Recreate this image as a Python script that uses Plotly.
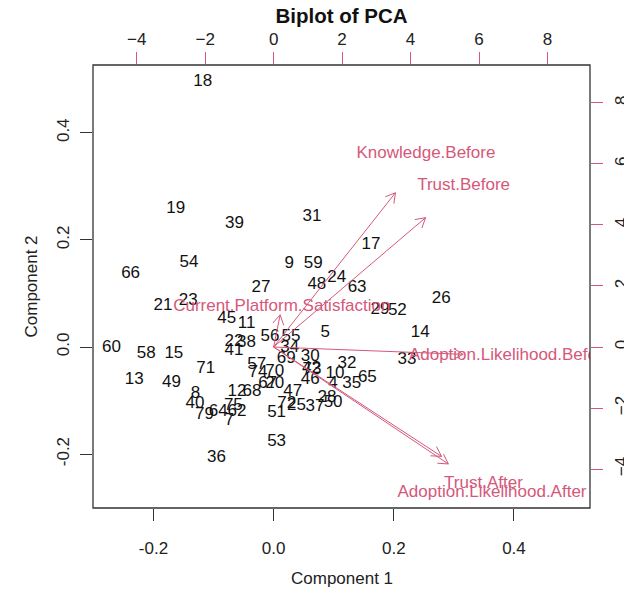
import math
import plotly.graph_objects as go

# Scores on the first two principal components, one label per respondent
obs_ids = ["18", "19", "39", "31", "17", "54", "66", "9", "59", "27",
           "48", "24", "63", "26", "21", "23", "29", "52", "45", "11",
           "56", "55", "5", "14", "22", "38", "41", "34", "69", "30",
           "60", "58", "15", "33", "71", "57", "74", "70", "42", "73",
           "32", "13", "49", "46", "10", "65", "4", "35", "8", "12",
           "68", "67", "20", "47", "28", "50", "40", "79", "64", "75",
           "62", "7", "72", "25", "37", "51", "53", "36"]
pc1 = [-0.118, -0.163, -0.065, 0.064, 0.162, -0.141, -0.238, 0.026, 0.066, -0.021,
       0.072, 0.105, 0.139, 0.279, -0.184, -0.142, 0.177, 0.206, -0.078, -0.045,
       -0.006, 0.029, 0.086, 0.244, -0.066, -0.045, -0.066, 0.027, 0.021, 0.061,
       -0.270, -0.212, -0.166, 0.222, -0.113, -0.028, -0.026, 0.002, 0.063, 0.064,
       0.122, -0.232, -0.170, 0.061, 0.102, 0.156, 0.099, 0.130, -0.130, -0.061,
       -0.036, -0.010, 0.002, 0.032, 0.089, 0.099, -0.131, -0.115, -0.092, -0.067,
       -0.061, -0.074, 0.022, 0.038, 0.069, 0.005, 0.005, -0.095]
pc2 = [0.496, 0.259, 0.231, 0.244, 0.191, 0.158, 0.136, 0.155, 0.155, 0.110,
       0.116, 0.129, 0.110, 0.091, 0.077, 0.087, 0.069, 0.068, 0.052, 0.044,
       0.019, 0.020, 0.026, 0.026, 0.010, 0.008, -0.007, -0.002, -0.021, -0.019,
       -0.001, -0.012, -0.013, -0.024, -0.040, -0.033, -0.048, -0.047, -0.040, -0.042,
       -0.031, -0.062, -0.067, -0.062, -0.049, -0.057, -0.069, -0.069, -0.087, -0.083,
       -0.083, -0.069, -0.069, -0.084, -0.094, -0.104, -0.105, -0.126, -0.120, -0.109,
       -0.121, -0.137, -0.106, -0.109, -0.111, -0.123, -0.176, -0.206]

# Variable loadings (positions of the variable names)
var_names = ["Knowledge.Before", "Trust.Before", "Current.Platform.Satisfaction",
             "Adoption.Likelihood.Before", "Trust.After", "Adoption.Likelihood.After"]
load1 = [4.45, 5.55, 0.24, 6.92, 6.13, 6.38]
load2 = [6.32, 5.30, 1.32, -0.30, -4.48, -4.79]

score_ticks = [-0.2, 0.0, 0.2, 0.4]
score_ticktext = ["-0.2", "0.0", "0.2", "0.4"]
load_ticks = [-4, -2, 0, 2, 4, 6, 8]

# Axis limits shared by both components; loading axes are scaled copies
lim = [-0.3006, 0.5266]
ratio = 17.55
vlim = [lim[0] * ratio, lim[1] * ratio]

W, H = 624, 590
ML, MR, MT, MB = 93, 34, 65, 82
plot_w = W - ML - MR
plot_h = H - MT - MB

FONT = "Arial, 'Liberation Sans', Helvetica, sans-serif"
VAR_COL = "#D5587A"
TXT = 17

fig = go.Figure()

# Observation labels
fig.add_trace(go.Scatter(
    x=pc1, y=pc2, text=obs_ids, mode="text",
    textfont=dict(family=FONT, size=TXT, color="#111111"),
    textposition="middle center", hoverinfo="skip", showlegend=False,
    xaxis="x", yaxis="y",
))

# Arrows drawn to 80% of each loading, with open V heads
sx = plot_w / (vlim[1] - vlim[0])
sy = plot_h / (vlim[1] - vlim[0])
head_len = 11.0
head_ang = math.radians(30)
ax_x, ax_y = [], []
for lx, ly in zip(load1, load2):
    tx, ty = 0.8 * lx, 0.8 * ly
    ax_x += [0, tx, None]
    ax_y += [0, ty, None]
    theta = math.atan2(ty * sy, tx * sx)
    for s in (1, -1):
        a = theta + s * head_ang
        bx = tx - head_len * math.cos(a) / sx
        by = ty - head_len * math.sin(a) / sy
        ax_x += [tx, bx, None]
        ax_y += [ty, by, None]

fig.add_trace(go.Scatter(
    x=ax_x, y=ax_y, mode="lines",
    line=dict(color=VAR_COL, width=1.0),
    hoverinfo="skip", showlegend=False, xaxis="x2", yaxis="y2",
))
fig.add_trace(go.Scatter(
    x=load1, y=load2, text=var_names, mode="text",
    textfont=dict(family=FONT, size=TXT, color=VAR_COL),
    textposition="middle center", hoverinfo="skip", showlegend=False,
    xaxis="x2", yaxis="y2",
))

axis_common = dict(
    showgrid=False, zeroline=False, showline=False, ticks="outside",
    ticklen=12, tickwidth=1.1, tickfont=dict(family=FONT, size=TXT, color="#222222"),
)

fig.update_layout(
    width=W, height=H,
    margin=dict(l=ML, r=MR, t=MT, b=MB, autoexpand=False),
    paper_bgcolor="white", plot_bgcolor="white",
    font=dict(family=FONT, color="#222222"),
    title=dict(text="<b>Biplot of PCA</b>", x=(ML + plot_w / 2) / W, xanchor="center",
               y=1 - 16 / H, yanchor="middle", yref="container",
               font=dict(family=FONT, size=20.5, color="#111111")),
    xaxis=dict(range=lim, tickvals=score_ticks, ticktext=score_ticktext,
               tickcolor="#333333", ticklabelstandoff=13, **axis_common),
    yaxis=dict(range=lim, tickvals=score_ticks, ticktext=score_ticktext,
               tickcolor="#333333", tickangle=-90, ticklabelstandoff=4, **axis_common),
    xaxis2=dict(range=vlim, tickvals=load_ticks, overlaying="x", side="top", anchor="y",
                tickcolor=VAR_COL, ticklabelstandoff=0, **axis_common),
    yaxis2=dict(range=vlim, tickvals=load_ticks, overlaying="y", side="right", anchor="x",
                tickcolor=VAR_COL, tickangle=-90, ticklabelstandoff=4, **axis_common),
    shapes=[dict(type="rect", xref="x domain", yref="y domain", x0=0, x1=1, y0=0, y1=1,
                 line=dict(color="#333333", width=1.3), layer="above")],
    annotations=[
        dict(text="Component 1", xref="paper", yref="paper", x=0.5, y=0,
             xanchor="center", yanchor="middle", yshift=-70, showarrow=False,
             font=dict(family=FONT, size=TXT, color="#222222")),
        dict(text="Component 2", xref="paper", yref="paper", x=0, y=0.5,
             xanchor="center", yanchor="middle", xshift=-62, textangle=-90,
             showarrow=False, font=dict(family=FONT, size=TXT, color="#222222")),
    ],
)

fig.write_html("out.html")
